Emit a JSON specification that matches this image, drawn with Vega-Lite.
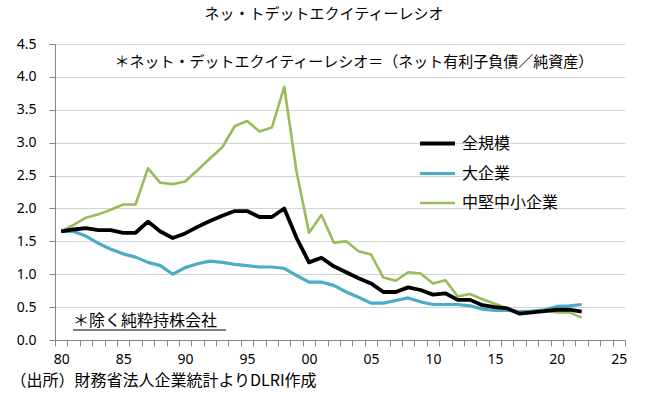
{
  "$schema": "https://vega.github.io/schema/vega-lite/v6.json",
  "width": 570,
  "height": 296,
  "autosize": {"type": "none"},
  "padding": {"left": 55, "top": 44, "right": 20, "bottom": 53},
  "background": "white",
  "title": {"text": "ネッ・トデットエクイティーレシオ", "font": "Noto Sans CJK JP", "fontSize": 15, "fontWeight": "normal", "color": "#000000", "anchor": "middle", "offset": 15, "dx": -16},
  "config": {
    "view": {"stroke": null},
    "axis": {"labelFont": "Noto Sans", "labelFontSize": 14, "labelColor": "#000000", "domainColor": "#868686", "tickColor": "#868686", "titleFont": "Noto Sans"}
  },
  "resolve": {"axis": {"x": "independent", "y": "independent"}},
  "data": {"values": [
    {"year":1980,"series":"中堅中小企業","value":1.65},{"year":1981,"series":"中堅中小企業","value":1.75},{"year":1982,"series":"中堅中小企業","value":1.86},{"year":1983,"series":"中堅中小企業","value":1.91},{"year":1984,"series":"中堅中小企業","value":1.98},{"year":1985,"series":"中堅中小企業","value":2.06},{"year":1986,"series":"中堅中小企業","value":2.06},{"year":1987,"series":"中堅中小企業","value":2.61},{"year":1988,"series":"中堅中小企業","value":2.39},{"year":1989,"series":"中堅中小企業","value":2.37},{"year":1990,"series":"中堅中小企業","value":2.41},{"year":1991,"series":"中堅中小企業","value":2.58},{"year":1992,"series":"中堅中小企業","value":2.76},{"year":1993,"series":"中堅中小企業","value":2.93},{"year":1994,"series":"中堅中小企業","value":3.25},{"year":1995,"series":"中堅中小企業","value":3.33},{"year":1996,"series":"中堅中小企業","value":3.17},{"year":1997,"series":"中堅中小企業","value":3.23},{"year":1998,"series":"中堅中小企業","value":3.85},{"year":1999,"series":"中堅中小企業","value":2.55},{"year":2000,"series":"中堅中小企業","value":1.63},{"year":2001,"series":"中堅中小企業","value":1.90},{"year":2002,"series":"中堅中小企業","value":1.48},{"year":2003,"series":"中堅中小企業","value":1.50},{"year":2004,"series":"中堅中小企業","value":1.35},{"year":2005,"series":"中堅中小企業","value":1.30},{"year":2006,"series":"中堅中小企業","value":0.95},{"year":2007,"series":"中堅中小企業","value":0.90},{"year":2008,"series":"中堅中小企業","value":1.03},{"year":2009,"series":"中堅中小企業","value":1.01},{"year":2010,"series":"中堅中小企業","value":0.86},{"year":2011,"series":"中堅中小企業","value":0.91},{"year":2012,"series":"中堅中小企業","value":0.66},{"year":2013,"series":"中堅中小企業","value":0.70},{"year":2014,"series":"中堅中小企業","value":0.62},{"year":2015,"series":"中堅中小企業","value":0.55},{"year":2016,"series":"中堅中小企業","value":0.48},{"year":2017,"series":"中堅中小企業","value":0.41},{"year":2018,"series":"中堅中小企業","value":0.43},{"year":2019,"series":"中堅中小企業","value":0.45},{"year":2020,"series":"中堅中小企業","value":0.42},{"year":2021,"series":"中堅中小企業","value":0.42},{"year":2022,"series":"中堅中小企業","value":0.34},
    {"year":1980,"series":"大企業","value":1.65},{"year":1981,"series":"大企業","value":1.65},{"year":1982,"series":"大企業","value":1.58},{"year":1983,"series":"大企業","value":1.47},{"year":1984,"series":"大企業","value":1.38},{"year":1985,"series":"大企業","value":1.31},{"year":1986,"series":"大企業","value":1.26},{"year":1987,"series":"大企業","value":1.18},{"year":1988,"series":"大企業","value":1.13},{"year":1989,"series":"大企業","value":1.00},{"year":1990,"series":"大企業","value":1.10},{"year":1991,"series":"大企業","value":1.16},{"year":1992,"series":"大企業","value":1.20},{"year":1993,"series":"大企業","value":1.18},{"year":1994,"series":"大企業","value":1.15},{"year":1995,"series":"大企業","value":1.13},{"year":1996,"series":"大企業","value":1.11},{"year":1997,"series":"大企業","value":1.11},{"year":1998,"series":"大企業","value":1.09},{"year":1999,"series":"大企業","value":0.98},{"year":2000,"series":"大企業","value":0.88},{"year":2001,"series":"大企業","value":0.88},{"year":2002,"series":"大企業","value":0.83},{"year":2003,"series":"大企業","value":0.73},{"year":2004,"series":"大企業","value":0.65},{"year":2005,"series":"大企業","value":0.56},{"year":2006,"series":"大企業","value":0.56},{"year":2007,"series":"大企業","value":0.60},{"year":2008,"series":"大企業","value":0.64},{"year":2009,"series":"大企業","value":0.58},{"year":2010,"series":"大企業","value":0.54},{"year":2011,"series":"大企業","value":0.54},{"year":2012,"series":"大企業","value":0.54},{"year":2013,"series":"大企業","value":0.52},{"year":2014,"series":"大企業","value":0.47},{"year":2015,"series":"大企業","value":0.45},{"year":2016,"series":"大企業","value":0.45},{"year":2017,"series":"大企業","value":0.43},{"year":2018,"series":"大企業","value":0.44},{"year":2019,"series":"大企業","value":0.46},{"year":2020,"series":"大企業","value":0.51},{"year":2021,"series":"大企業","value":0.52},{"year":2022,"series":"大企業","value":0.54},
    {"year":1980,"series":"全規模","value":1.65},{"year":1981,"series":"全規模","value":1.68},{"year":1982,"series":"全規模","value":1.70},{"year":1983,"series":"全規模","value":1.67},{"year":1984,"series":"全規模","value":1.67},{"year":1985,"series":"全規模","value":1.63},{"year":1986,"series":"全規模","value":1.63},{"year":1987,"series":"全規模","value":1.80},{"year":1988,"series":"全規模","value":1.65},{"year":1989,"series":"全規模","value":1.55},{"year":1990,"series":"全規模","value":1.62},{"year":1991,"series":"全規模","value":1.72},{"year":1992,"series":"全規模","value":1.81},{"year":1993,"series":"全規模","value":1.89},{"year":1994,"series":"全規模","value":1.96},{"year":1995,"series":"全規模","value":1.96},{"year":1996,"series":"全規模","value":1.87},{"year":1997,"series":"全規模","value":1.87},{"year":1998,"series":"全規模","value":2.00},{"year":1999,"series":"全規模","value":1.55},{"year":2000,"series":"全規模","value":1.18},{"year":2001,"series":"全規模","value":1.25},{"year":2002,"series":"全規模","value":1.12},{"year":2003,"series":"全規模","value":1.03},{"year":2004,"series":"全規模","value":0.94},{"year":2005,"series":"全規模","value":0.86},{"year":2006,"series":"全規模","value":0.73},{"year":2007,"series":"全規模","value":0.73},{"year":2008,"series":"全規模","value":0.80},{"year":2009,"series":"全規模","value":0.76},{"year":2010,"series":"全規模","value":0.69},{"year":2011,"series":"全規模","value":0.71},{"year":2012,"series":"全規模","value":0.61},{"year":2013,"series":"全規模","value":0.61},{"year":2014,"series":"全規模","value":0.53},{"year":2015,"series":"全規模","value":0.50},{"year":2016,"series":"全規模","value":0.48},{"year":2017,"series":"全規模","value":0.40},{"year":2018,"series":"全規模","value":0.42},{"year":2019,"series":"全規模","value":0.44},{"year":2020,"series":"全規模","value":0.46},{"year":2021,"series":"全規模","value":0.46},{"year":2022,"series":"全規模","value":0.43}
  ]},
  "layer": [
    {
      "mark": {"type": "line", "strokeJoin": "round", "strokeCap": "butt"},
      "encoding": {
        "x": {"field": "year", "type": "quantitative",
          "scale": {"domain": [1979.5, 2025.5], "nice": false, "zero": false},
          "axis": {"title": null, "grid": false, "orient": "bottom",
            "values": [1979.5,1980.5,1981.5,1982.5,1983.5,1984.5,1985.5,1986.5,1987.5,1988.5,1989.5,1990.5,1991.5,1992.5,1993.5,1994.5,1995.5,1996.5,1997.5,1998.5,1999.5,2000.5,2001.5,2002.5,2003.5,2004.5,2005.5,2006.5,2007.5,2008.5,2009.5,2010.5,2011.5,2012.5,2013.5,2014.5,2015.5,2016.5,2017.5,2018.5,2019.5,2020.5,2021.5,2022.5,2023.5,2024.5,2025.5],
            "labelExpr": "(datum.value + 0.5) % 5 == 0 ? substring(toString(datum.value + 0.5), 2, 4) : ''",
            "labelOffset": 6.2, "labelOverlap": false, "labelBound": false, "labelFlush": false,
            "tickSize": 6, "labelPadding": 6}},
        "y": {"field": "value", "type": "quantitative",
          "scale": {"domain": [0, 4.5], "nice": false},
          "axis": {"title": null, "orient": "left", "values": [0,0.5,1,1.5,2,2.5,3,3.5,4,4.5], "format": ".1f",
            "labelOverlap": false, "labelBound": false, "labelFlush": false,
            "grid": true, "gridColor": "#d4d4d4", "gridWidth": 1,
            "tickSize": 6, "labelPadding": 13}},
        "color": {"field": "series", "type": "nominal",
          "scale": {"domain": ["全規模", "大企業", "中堅中小企業"], "range": ["#000000", "#4BACC6", "#9BBB59"]},
          "legend": {"orient": "none", "legendX": 363, "legendY": 80, "title": null, "symbolType": "stroke", "symbolSize": 1225, "labelFont": "Noto Sans CJK JP", "labelFontSize": 16, "labelColor": "#000000", "labelOffset": 5, "rowPadding": 2}},
        "strokeWidth": {"field": "series", "type": "nominal",
          "scale": {"domain": ["全規模", "大企業", "中堅中小企業"], "range": [3.8, 2.6, 2.6]},
          "legend": {"orient": "none", "legendX": 363, "legendY": 80, "title": null, "symbolType": "stroke", "symbolSize": 1225, "labelFont": "Noto Sans CJK JP", "labelFontSize": 16, "labelColor": "#000000", "labelOffset": 5, "rowPadding": 2}}
      }
    },
    {
      "data": {"values": [{}]},
      "mark": {"type": "text", "font": "Noto Sans CJK JP", "fontSize": 15, "align": "left", "baseline": "middle", "color": "#000000"},
      "encoding": {"x": {"datum": 1984.3, "axis": null}, "y": {"datum": 4.23, "axis": null}, "text": {"value": "＊ネット・デットエクイティーレシオ＝（ネット有利子負債／純資産）"}}
    },
    {
      "data": {"values": [{}]},
      "mark": {"type": "text", "font": "Noto Sans CJK JP", "fontSize": 16, "align": "left", "baseline": "middle", "color": "#000000"},
      "encoding": {"x": {"datum": 1980.95, "axis": null}, "y": {"datum": 0.29, "axis": null}, "text": {"value": "＊除く純粋持株会社"}}
    },
    {
      "data": {"values": [{}]},
      "mark": {"type": "rule", "color": "#000000", "strokeWidth": 1.2},
      "encoding": {"x": {"datum": 1980.95, "axis": null}, "x2": {"datum": 1993.3}, "y": {"datum": 0.152, "axis": null}}
    },
    {
      "data": {"values": [{}]},
      "mark": {"type": "text", "font": "Noto Sans CJK JP", "fontSize": 16, "align": "left", "baseline": "middle", "color": "#000000"},
      "encoding": {"x": {"datum": 1975.9, "axis": null}, "y": {"datum": -0.623, "axis": null}, "text": {"value": "（出所）財務省法人企業統計よりDLRI作成"}}
    }
  ]
}
